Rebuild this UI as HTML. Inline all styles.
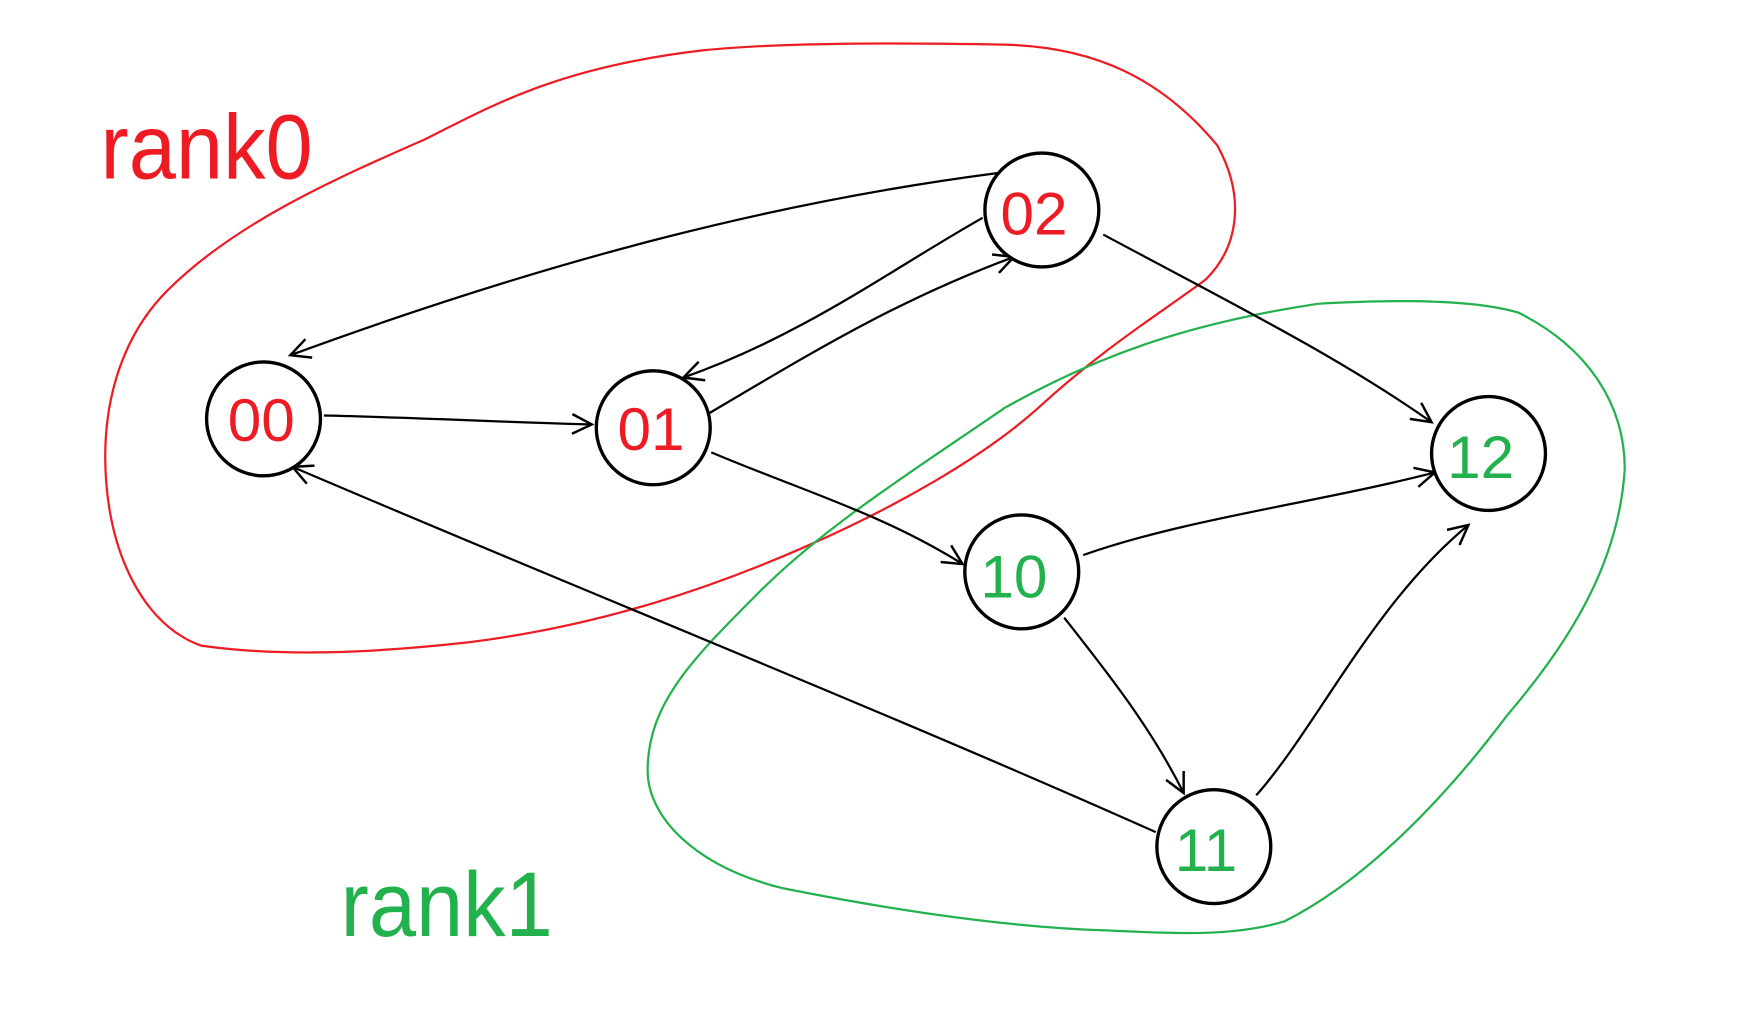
<!DOCTYPE html>
<html><head><style>
html,body{margin:0;padding:0;background:#fff;}
svg{display:block;}
</style></head><body>
<svg width="1742" height="1022" viewBox="0 0 1560 915" preserveAspectRatio="none" xmlns="http://www.w3.org/2000/svg">
<defs>
<marker id="a" viewBox="0 0 20 20" refX="18" refY="10" markerWidth="22" markerHeight="22" markerUnits="userSpaceOnUse" orient="auto">
<path d="M2 2 L18 10 L2 18" fill="none" stroke="#000" stroke-width="2"/>
</marker>
</defs>
<path d="M630 45 C700 38 800 38 900 40 C980 42 1040 70 1090 130 C1115 175 1110 220 1080 250 C1040 280 990 310 930 365 C880 410 800 455 720 490 C640 525 540 560 420 575 C330 585 250 588 180 578 C130 560 100 500 95 430 C90 360 110 300 150 260 C210 200 300 160 380 125 C440 95 500 60 630 45 Z" fill="none" stroke="#ed1c24" stroke-width="2"/>
<path d="M1180 272 C1250 268 1320 268 1360 280 C1420 310 1455 360 1455 420 C1450 500 1410 570 1350 640 C1290 720 1220 790 1150 825 C1100 840 1040 835 990 833 C900 830 800 815 700 795 C620 775 580 730 580 690 C580 630 620 590 680 530 C740 470 820 420 900 365 C980 320 1060 290 1180 272 Z" fill="none" stroke="#22b14c" stroke-width="2"/>
<text x="90" y="160" font-family="Liberation Sans, sans-serif" font-size="82" fill="#ed1c24" font-weight="300" textLength="190" lengthAdjust="spacingAndGlyphs">rank0</text>
<text x="305" y="838" font-family="Liberation Sans, sans-serif" font-size="82" fill="#22b14c" textLength="190" lengthAdjust="spacingAndGlyphs">rank1</text>
<g fill="none" stroke="#000" stroke-width="2">
<path d="M893 155 C700 180 500 230 260 318" marker-end="url(#a)"/>
<path d="M880 195 C800 240 720 300 612 338" marker-end="url(#a)"/>
<path d="M635 370 C720 320 800 270 908 230" marker-end="url(#a)"/>
<path d="M290 372 C380 374 450 378 530 380" marker-end="url(#a)"/>
<path d="M637 405 C720 440 790 460 862 505" marker-end="url(#a)"/>
<path d="M1035 745 C800 640 500 520 262 418" marker-end="url(#a)"/>
<path d="M988 210 C1100 270 1200 320 1282 378" marker-end="url(#a)"/>
<path d="M970 497 C1060 465 1180 450 1285 423" marker-end="url(#a)"/>
<path d="M953 553 C990 600 1030 650 1060 710" marker-end="url(#a)"/>
<path d="M1125 712 C1180 650 1230 540 1315 470" marker-end="url(#a)"/>
</g>
<g fill="#fff" stroke="#000" stroke-width="3">
<circle cx="236" cy="375" r="51"/>
<circle cx="585" cy="383" r="51"/>
<circle cx="933" cy="188" r="51"/>
<circle cx="915" cy="512" r="51"/>
<circle cx="1087" cy="758" r="51"/>
<circle cx="1333" cy="406" r="51"/>
</g>
<g font-family="Liberation Sans, sans-serif" font-size="54" text-anchor="middle">
<text x="234" y="395" fill="#ed1c24">00</text>
<text x="583" y="403" fill="#ed1c24">01</text>
<text x="926" y="210" fill="#ed1c24">02</text>
<text x="908" y="535" fill="#22b14c">10</text>
<text x="1080" y="780" fill="#22b14c">11</text>
<text x="1326" y="428" fill="#22b14c">12</text>
</g>
</svg>
</body></html>
